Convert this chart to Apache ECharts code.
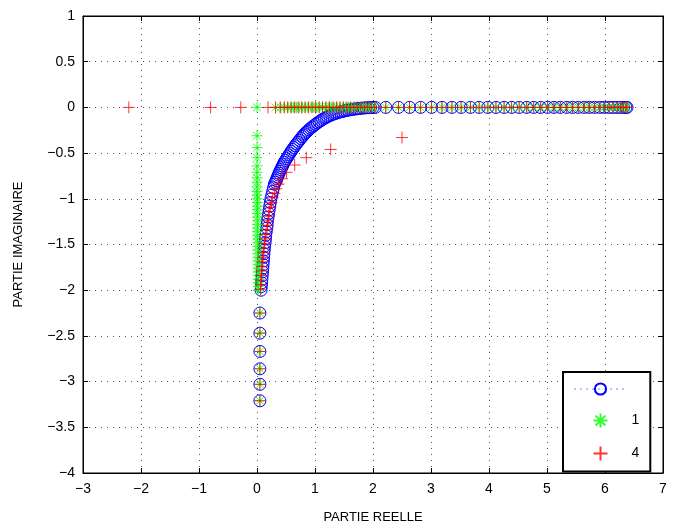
<!DOCTYPE html>
<html><head><meta charset="utf-8">
<script src="https://cdn.jsdelivr.net/npm/echarts@6/dist/echarts.min.js"></script>
<style>html,body{margin:0;padding:0;background:#fff}#c{width:675px;height:529px}</style>
</head><body><div id="c"></div>
<script>
// ---- data ----
const xTicks = [-3,-2,-1,0,1,2,3,4,5,6,7];
const yTicks = [-4,-3.5,-3,-2.5,-2,-1.5,-1,-0.5,0,0.5,1];
// real-axis points shared by all three series
const axisRe = [2.22,2.44,2.63,2.82,3.01,3.19,3.36,3.52,3.68,3.83,3.98,4.12,4.26,4.39,4.52,4.65,4.77,4.89,5.01,5.12,5.23,5.34,5.44,5.54,5.64,5.73,5.82,5.91,5.99,6.07,6.14,6.21,6.27,6.32,6.36,6.38];
// lower imaginary points shared by all three series
const lowRe = [0.05,0.05,0.05,0.05,0.05,0.05];
const lowIm = [-2.25,-2.47,-2.67,-2.86,-3.03,-3.21];
// blue curve
const blueRe = [0.07,0.075,0.08,0.085,0.09,0.095,0.10,0.105,0.11,0.115,0.12,0.125,0.13,0.14,0.145,0.15,0.16,0.17,0.175,0.18,0.19,0.20,0.21,0.22,0.23,0.24,0.255,0.27,0.285,0.30,
  0.315,0.33,0.342,0.355,0.367,0.38,0.395,0.41,0.425,0.44,0.455,0.47,0.49,0.51,0.53,0.55,0.57,0.59,0.612,0.635,0.657,0.68,0.705,0.73,0.755,0.78,0.80,0.82,0.845,0.87,0.895,0.92,0.95,0.98,1.01,1.04,1.07,1.10,1.13,1.16,1.19,1.22,1.255,1.29,1.325,1.36,1.395,1.43,1.465,1.50,1.535,1.57,1.61,1.65,1.685,1.72,1.76,1.80,1.84,1.88,1.92,1.96,2.00,2.04];
const blueIm = [-2.00,-1.96,-1.92,-1.88,-1.84,-1.80,-1.76,-1.72,-1.68,-1.64,-1.60,-1.56,-1.52,-1.48,-1.44,-1.40,-1.36,-1.32,-1.28,-1.24,-1.20,-1.16,-1.12,-1.08,-1.04,-1.00,-0.96,-0.92,-0.88,-0.84,
  -0.82,-0.80,-0.78,-0.76,-0.74,-0.72,-0.70,-0.68,-0.66,-0.64,-0.62,-0.60,-0.58,-0.56,-0.54,-0.52,-0.50,-0.48,-0.46,-0.44,-0.42,-0.40,-0.38,-0.36,-0.34,-0.32,-0.305,-0.29,-0.275,-0.26,-0.245,-0.23,-0.215,-0.20,-0.185,-0.17,-0.157,-0.145,-0.132,-0.12,-0.11,-0.10,-0.09,-0.08,-0.072,-0.065,-0.057,-0.05,-0.045,-0.04,-0.035,-0.03,-0.026,-0.022,-0.018,-0.015,-0.012,-0.01,-0.007,-0.005,-0.003,-0.002,-0.001,0];
// green column near the imaginary axis
const greenColRe = [0,0,0,0,0,0,0,0,0,0,0.005,0.005,0.005,0.005,0.005,0.01,0.01,0.01,0.01,0.01,0.01,0.015,0.015,0.015,0.015,0.015,0.015,0.02,0.02,0.02,0.02,0.02,0.02,0.02,0.02,0.02];
const greenColIm = [-0.31,-0.44,-0.55,-0.64,-0.71,-0.77,-0.82,-0.87,-0.92,-0.96,-1.00,-1.04,-1.08,-1.12,-1.16,-1.20,-1.24,-1.28,-1.32,-1.36,-1.40,-1.44,-1.48,-1.52,-1.56,-1.60,-1.64,-1.68,-1.72,-1.76,-1.80,-1.84,-1.88,-1.92,-1.96,-2.00];
// green points on the real axis
const greenAxisRe = [0,0.32,0.41,0.47,0.53,0.58,0.63,0.68,0.73,0.78,0.83,0.88,0.93,0.98,1.03,1.08,1.13,1.18,1.23,1.28,1.33,1.38,1.43,1.48,1.53,1.58,1.63,1.68,1.73,1.78,1.83,1.88,1.93,1.98,2.03];
// red points on the real axis
const redAxisRe = [-2.21,-0.80,-0.28,0.19,0.32,0.40,0.47,0.53,0.59,0.65,0.71,0.77,0.83,0.89,0.95,1.01,1.07,1.13,1.19,1.25,1.31,1.37,1.43,1.49,1.55,1.61,1.67,1.73,1.79,1.85,1.91,1.97,2.03];
// red curve
const redCurveRe = [2.50,1.27,0.85,0.65,0.51,0.43,0.37,0.33,0.30,0.27,0.25,0.23,0.21,0.20,0.19,0.18,0.17,0.15,0.14,0.13,0.12,0.11,0.10,0.09,0.085,0.08,0.075,0.07,0.065,0.06];
const redCurveIm = [-0.33,-0.46,-0.55,-0.63,-0.71,-0.78,-0.84,-0.89,-0.94,-0.99,-1.04,-1.09,-1.14,-1.19,-1.24,-1.29,-1.34,-1.39,-1.44,-1.49,-1.54,-1.59,-1.64,-1.69,-1.74,-1.79,-1.84,-1.89,-1.94,-1.99];
const legendNames = ['blue','1','4'];

// ---- build ----
const zip = (a,b) => a.map((v,i)=>[v,b[i]]);
const onAxis = a => a.map(v=>[v,0]);
const low = zip(lowRe, lowIm);
const blueData = zip(blueRe, blueIm).concat(onAxis(axisRe), low);
const greenData = zip(greenColRe, greenColIm).concat(onAxis(greenAxisRe), onAxis(axisRe), low);
const redData = onAxis(redAxisRe).concat(zip(redCurveRe, redCurveIm), onAxis(axisRe), low);

const FONT = '"Liberation Sans", Arial, Helvetica, sans-serif';
const ASTER = 'path://M12,0L12,24M0,12L24,12M3.5,3.5L20.5,20.5M3.5,20.5L20.5,3.5';
const PLUS = 'path://M12,0L12,24M0,12L24,12';
const minus = v => String(v).replace('-', '\u2212');
const gridLine = {show:true, lineStyle:{color:'#555', type:[1,5], width:1}};

const chart = echarts.init(document.getElementById('c'), null, {renderer:'canvas'});
chart.setOption({
  animation:false,
  backgroundColor:'#fff',
  grid:{left:83, right:12, top:16, bottom:55, show:true, borderColor:'#000', borderWidth:1, backgroundColor:'transparent'},
  xAxis:[{
    type:'value', min:xTicks[0], max:xTicks[xTicks.length-1], interval:1,
    name:'PARTIE REELLE', nameLocation:'middle', nameGap:38,
    nameTextStyle:{fontFamily:FONT, fontSize:13, color:'#000'},
    axisLine:{show:true, onZero:false, lineStyle:{color:'#000'}},
    axisTick:{show:true, inside:true, length:5, lineStyle:{color:'#000'}},
    axisLabel:{fontFamily:FONT, fontSize:14, color:'#000', margin:9, formatter:minus},
    splitLine:gridLine
  },{
    type:'value', position:'top', min:xTicks[0], max:xTicks[xTicks.length-1], interval:1,
    axisLine:{show:true, onZero:false, lineStyle:{color:'#000'}},
    axisTick:{show:true, inside:true, length:5, lineStyle:{color:'#000'}},
    axisLabel:{show:false}, splitLine:{show:false}
  }],
  yAxis:[{
    type:'value', min:yTicks[0], max:yTicks[yTicks.length-1], interval:0.5,
    name:'PARTIE IMAGINAIRE', nameLocation:'middle', nameGap:58, nameRotate:90,
    nameTextStyle:{fontFamily:FONT, fontSize:13, color:'#000'},
    axisLine:{show:true, onZero:false, lineStyle:{color:'#000'}},
    axisTick:{show:true, inside:true, length:5, lineStyle:{color:'#000'}},
    axisLabel:{fontFamily:FONT, fontSize:14, color:'#000', margin:8, formatter:minus},
    splitLine:gridLine
  },{
    type:'value', position:'right', min:yTicks[0], max:yTicks[yTicks.length-1], interval:0.5,
    axisLine:{show:true, onZero:false, lineStyle:{color:'#000'}},
    axisTick:{show:true, inside:true, length:5, lineStyle:{color:'#000'}},
    axisLabel:{show:false}, splitLine:{show:false}
  }],
  legend:{
    orient:'vertical', left:563, top:372,
    padding:[10,11,10,11], itemGap:17, itemWidth:52, itemHeight:14, itemTextGap:15,
    borderColor:'#000', borderWidth:2, backgroundColor:'#fff',
    textStyle:{fontFamily:FONT, fontSize:14, color:'#000'},
    formatter: n => n === 'blue' ? '' : n,
    data:[
      {name:legendNames[0], lineStyle:{color:'#0000ff', width:1, type:[1,5], opacity:1}},
      {name:legendNames[1]},
      {name:legendNames[2]}
    ]
  },
  series:[
    {name:legendNames[0], type:'line', data:blueData, xAxisIndex:0, yAxisIndex:0,
     symbol:'circle', symbolSize:12, showSymbol:true,
     itemStyle:{color:'rgba(0,0,0,0)', borderColor:'#0000ff', borderWidth:1},
     lineStyle:{color:'#0000ff', width:0, opacity:0}, emphasis:{disabled:true}, z:2},
    {name:legendNames[1], type:'scatter', data:greenData,
     symbol:ASTER, symbolSize:11,
     itemStyle:{color:'rgba(0,0,0,0)', borderColor:'#00ff00', borderWidth:1},
     emphasis:{disabled:true}, z:3},
    {name:legendNames[2], type:'scatter', data:redData,
     symbol:PLUS, symbolSize:12,
     itemStyle:{color:'rgba(0,0,0,0)', borderColor:'#ff0000', borderWidth:1},
     emphasis:{disabled:true}, z:4}
  ]
});
</script></body></html>
